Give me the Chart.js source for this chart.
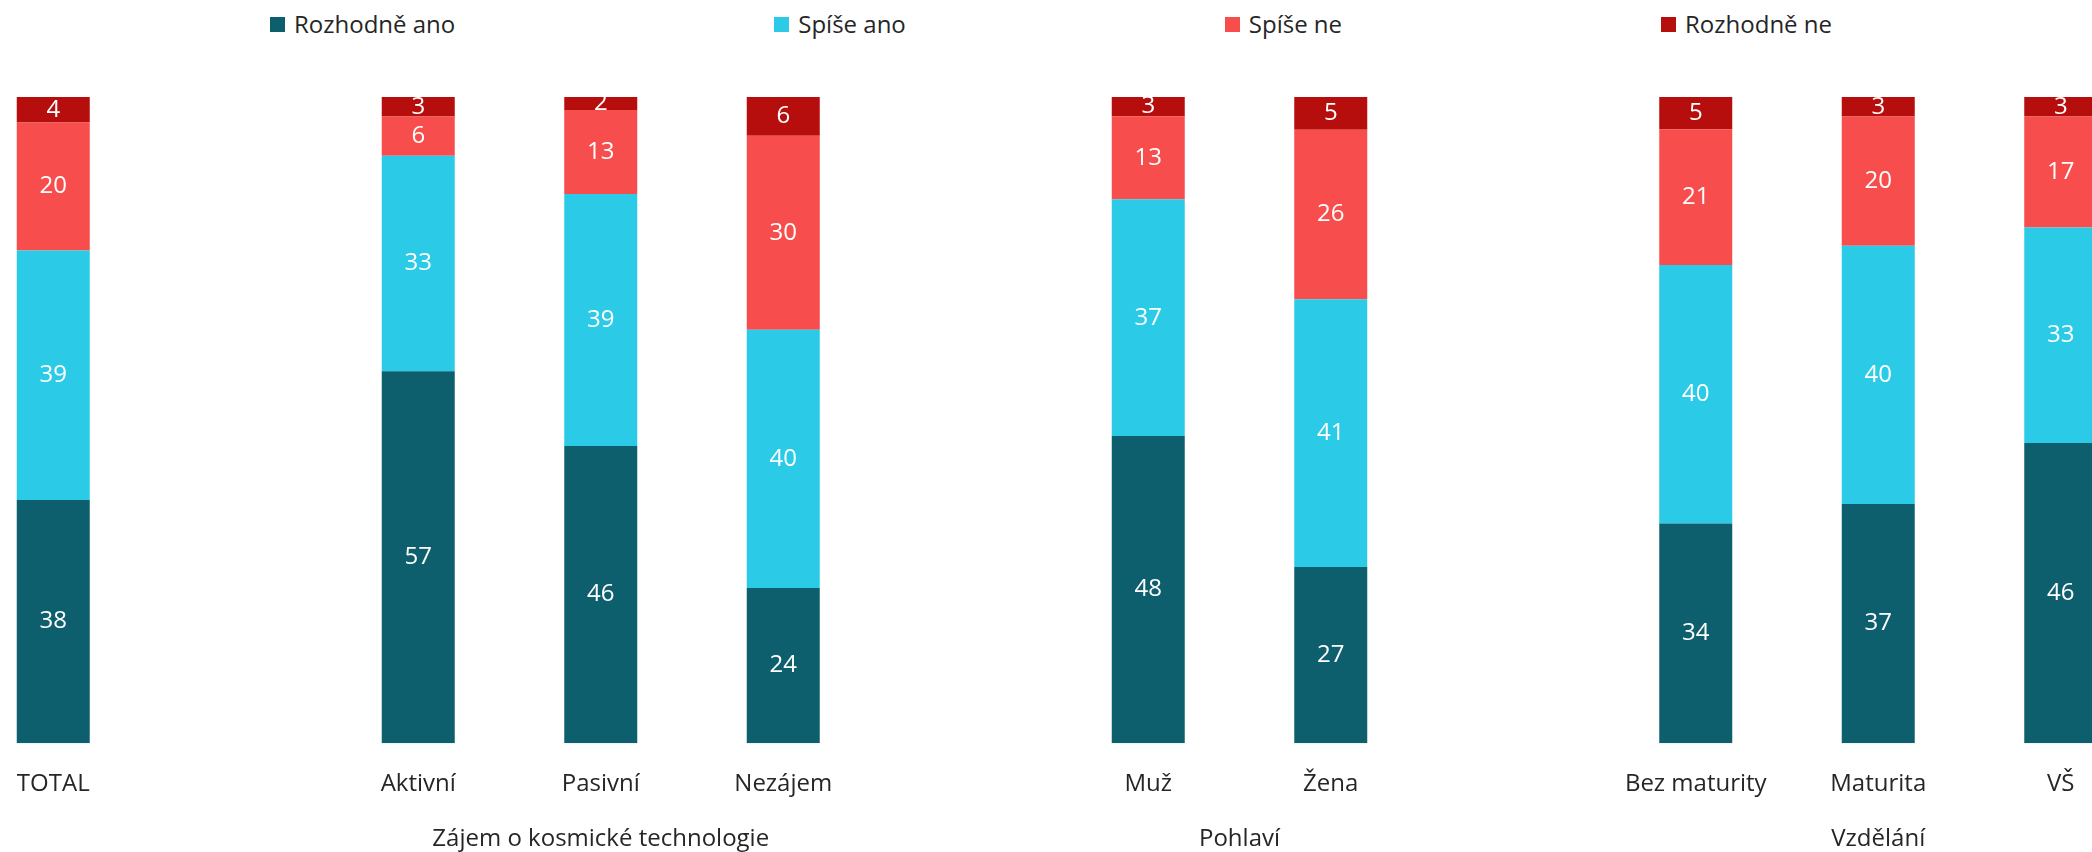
<!DOCTYPE html>
<html>
<head>
<meta charset="utf-8">
<script src="https://cdn.jsdelivr.net/npm/chart.js@4.4.1/dist/chart.umd.min.js"></script>
<style>
  html, body { margin: 0; padding: 0; background: #fff; overflow: hidden; width: 2092px; height: 852px; }
  #legend { position: absolute; top: 8px; left: 0; width: 2092px; padding-left: 10px; box-sizing: border-box;
            display: flex; justify-content: center; gap: 319px; font-family: "Open Sans", sans-serif;
            font-size: 24px; color: #262626; line-height: 32px; }
  #legend .item { display: flex; align-items: center; white-space: nowrap; }
  #legend .box { width: 15px; height: 15px; margin-right: 9px; }
  #chart { position: absolute; left: -38px; top: 0; }
</style>
</head>
<body>
<div id="legend"></div>
<canvas id="chart" width="2190" height="852"></canvas>
<script>
var categories = ["TOTAL", "", "Aktivní", "Pasivní", "Nezájem", "", "Muž", "Žena", "", "Bez maturity", "Maturita", "VŠ"];
var seriesNames = ["Rozhodně ano", "Spíše ano", "Spíše ne", "Rozhodně ne"];
var seriesColors = ["#0e5f6e", "#2bcbe8", "#f74d4d", "#b50e0c"];

var rozhodneAno = [38, null, 57, 46, 24, null, 48, 27, null, 34, 37, 46];
var spiseAno    = [39, null, 33, 39, 40, null, 37, 41, null, 40, 40, 33];
var spiseNe     = [20, null, 6, 13, 30, null, 13, 26, null, 21, 20, 17];
var rozhodneNe  = [4, null, 3, 2, 6, null, 3, 5, null, 5, 3, 3];

var groupNames = ["Zájem o kosmické technologie", "Pohlaví", "Vzdělání"];
var groupFrom = [2, 6, 9];
var groupTo = [4, 7, 11];

var rawSeries = [rozhodneAno, spiseAno, spiseNe, rozhodneNe];

// 100% stacked: each column is scaled to its own total
var totals = categories.map(function(c, i){
  var s = 0;
  rawSeries.forEach(function(arr){ if (arr[i] != null) s += arr[i]; });
  return s;
});

var datasets = rawSeries.map(function(arr, k){
  return {
    label: seriesNames[k],
    backgroundColor: seriesColors[k],
    borderWidth: 0,
    data: arr.map(function(v, i){ return v == null ? null : v / totals[i] * 100; }),
    raw: arr
  };
});

// html legend
var legend = document.getElementById("legend");
datasets.forEach(function(ds){
  var item = document.createElement("div");
  item.className = "item";
  var box = document.createElement("span");
  box.className = "box";
  box.style.background = ds.backgroundColor;
  var txt = document.createElement("span");
  txt.textContent = ds.label;
  item.appendChild(box);
  item.appendChild(txt);
  legend.appendChild(item);
});

var FONT = "'Open Sans', sans-serif";

var valueLabels = {
  id: "valueLabels",
  afterDatasetsDraw: function(chart){
    var ctx = chart.ctx;
    ctx.save();
    ctx.font = "24px " + FONT;
    ctx.fillStyle = "#ffffff";
    ctx.textAlign = "center";
    ctx.textBaseline = "middle";
    chart.data.datasets.forEach(function(ds, k){
      var meta = chart.getDatasetMeta(k);
      meta.data.forEach(function(bar, i){
        if (ds.raw[i] == null) return;
        ctx.fillText(String(ds.raw[i]), bar.x, (bar.y + bar.base) / 2);
      });
    });
    ctx.restore();
  }
};

var groupLabels = {
  id: "groupLabels",
  afterDraw: function(chart){
    var ctx = chart.ctx;
    var xs = chart.scales.x;
    ctx.save();
    ctx.font = "24px " + FONT;
    ctx.fillStyle = "#262626";
    ctx.textAlign = "center";
    ctx.textBaseline = "middle";
    groupNames.forEach(function(name, g){
      var x = (xs.getPixelForValue(groupFrom[g]) + xs.getPixelForValue(groupTo[g])) / 2;
      ctx.fillText(name, x, chart.chartArea.bottom + 96);
    });
    ctx.restore();
  }
};

var ctx = document.getElementById("chart").getContext("2d");
var chart = new Chart(ctx, {
  type: "bar",
  data: { labels: categories, datasets: datasets },
  options: {
    responsive: false,
    animation: false,
    layout: { padding: { top: 97, bottom: 26, left: 0, right: 0 } },
    datasets: { bar: { barPercentage: 0.4, categoryPercentage: 1 } },
    plugins: { legend: { display: false }, tooltip: { enabled: false } },
    scales: {
      x: {
        stacked: true,
        grid: { display: false, drawTicks: false },
        border: { display: false },
        ticks: { font: { family: FONT, size: 24 }, color: "#262626", padding: 27, autoSkip: false, maxRotation: 0 }
      },
      y: {
        stacked: true,
        display: false,
        min: 0,
        max: 100
      }
    }
  },
  plugins: [valueLabels, groupLabels]
});
</script>
</body>
</html>
